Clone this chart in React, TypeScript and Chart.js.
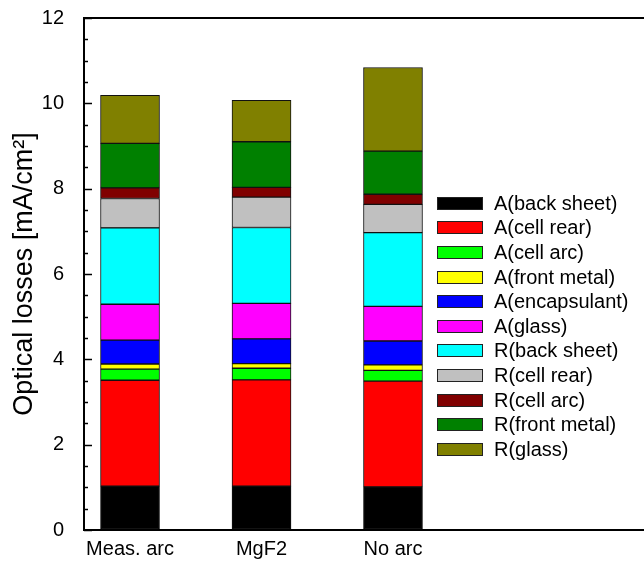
import React, { useEffect, useRef } from "react";
import { Chart, registerables } from "chart.js";

Chart.register(...registerables);

const categories = ["Meas. arc", "MgF2", "No arc"];
const categoryPositions = [1, 2, 3];

const seriesNames = [
  "A(back sheet)",
  "A(cell rear)",
  "A(cell arc)",
  "A(front metal)",
  "A(encapsulant)",
  "A(glass)",
  "R(back sheet)",
  "R(cell rear)",
  "R(cell arc)",
  "R(front metal)",
  "R(glass)",
];

const seriesColors = [
  "#000000",
  "#ff0000",
  "#00ff00",
  "#ffff00",
  "#0000ff",
  "#ff00ff",
  "#00ffff",
  "#c0c0c0",
  "#800000",
  "#008000",
  "#808000",
];

// values per series, for [Meas. arc, MgF2, No arc]
const aBackSheet = [1.03, 1.03, 1.01];
const aCellRear = [2.48, 2.49, 2.48];
const aCellArc = [0.26, 0.27, 0.25];
const aFrontMetal = [0.12, 0.11, 0.13];
const aEncapsulant = [0.56, 0.58, 0.56];
const aGlass = [0.84, 0.83, 0.81];
const rBackSheet = [1.79, 1.78, 1.73];
const rCellRear = [0.69, 0.71, 0.66];
const rCellArc = [0.25, 0.23, 0.24];
const rFrontMetal = [1.04, 1.07, 1.01];
const rGlass = [1.13, 0.97, 1.96];

const seriesValues = [
  aBackSheet,
  aCellRear,
  aCellArc,
  aFrontMetal,
  aEncapsulant,
  aGlass,
  rBackSheet,
  rCellRear,
  rCellArc,
  rFrontMetal,
  rGlass,
];

const yMin = 0;
const yMax = 12;
const yMajorStep = 2;
const yMinorStep = 0.5;

const FONT = "'Liberation Sans', Arial, sans-serif";

const innerTicks = {
  id: "innerTicks",
  afterDraw(chart: any) {
    const ctx = chart.ctx;
    const y = chart.scales.y;
    const area = chart.chartArea;
    ctx.save();
    ctx.strokeStyle = "#000";
    ctx.lineWidth = 1.5;
    for (let v = yMin; v <= yMax + 1e-9; v += yMinorStep) {
      const py = Math.round(y.getPixelForValue(v)) + 0.5;
      const major = Math.abs(v / yMajorStep - Math.round(v / yMajorStep)) < 1e-9;
      const len = major ? 8 : 4;
      ctx.beginPath();
      ctx.moveTo(area.left, py);
      ctx.lineTo(area.left + len, py);
      ctx.stroke();
    }
    // frame: left, bottom, top
    ctx.lineWidth = 2;
    ctx.beginPath();
    ctx.moveTo(area.right, area.top);
    ctx.lineTo(area.left, area.top);
    ctx.lineTo(area.left, area.bottom);
    ctx.lineTo(area.right, area.bottom);
    ctx.stroke();
    ctx.restore();
  },
};

export default function App() {
  const canvasRef = useRef<HTMLCanvasElement | null>(null);

  useEffect(() => {
    if (!canvasRef.current) return;
    const chart = new Chart(canvasRef.current, {
      type: "bar",
      data: {
        datasets: seriesNames.map((name, i) => ({
          label: name,
          data: seriesValues[i].map((v, j) => ({ x: categoryPositions[j], y: v })),
          backgroundColor: seriesColors[i],
          borderColor: "#111",
          borderWidth: 1,
          borderSkipped: false,
          barThickness: 59,
        })),
      },
      options: {
        animation: false,
        responsive: false,
        maintainAspectRatio: false,
        layout: { padding: { top: 18, left: 0, right: 0, bottom: 0 } },
        plugins: {
          legend: { display: false },
          tooltip: { enabled: false },
        },
        scales: {
          x: {
            type: "linear",
            stacked: true,
            offset: false,
            min: 0.65,
            max: 4.909,
            grid: { display: false, drawTicks: false },
            border: { display: false },
            afterBuildTicks: (scale: any) => {
              scale.ticks = categoryPositions.map((v) => ({ value: v }));
            },
            afterFit: (scale: any) => {
              scale.height = 33;
            },
            ticks: {
              autoSkip: false,
              maxRotation: 0,
              padding: 7,
              color: "#000",
              font: { family: FONT, size: 20 },
              callback: (value: any) => {
                const idx = categoryPositions.indexOf(Number(value));
                return idx >= 0 ? categories[idx] : "";
              },
            },
          },
          y: {
            type: "linear",
            stacked: true,
            min: yMin,
            max: yMax,
            grid: {
              display: true,
              drawOnChartArea: false,
              drawTicks: true,
              tickLength: 20,
              color: "rgba(0,0,0,0)",
            },
            border: { display: false },
            afterFit: (scale: any) => {
              scale.width = 84;
            },
            ticks: {
              stepSize: yMajorStep,
              padding: 0,
              color: "#000",
              font: { family: FONT, size: 20 },
            },
            title: {
              display: true,
              text: "Optical losses [mA/cm²]",
              color: "#000",
              font: { family: FONT, size: 27 },
              padding: { top: 8, bottom: 0 },
            },
          },
        },
      },
      plugins: [innerTicks],
    });
    return () => chart.destroy();
  }, []);

  const legendTop = 203.3;
  const legendStep = 24.6;

  return (
    <div style={{ position: "absolute", left: 0, top: 0, width: 644, height: 563, background: "#fff" }}>
      <canvas ref={canvasRef} width={644} height={563} style={{ width: 644, height: 563, display: "block" }} />
      {seriesNames.map((name, i) => (
        <div
          key={name}
          style={{
            position: "absolute",
            left: 437,
            top: legendTop + i * legendStep - 12,
            height: 24,
            display: "flex",
            alignItems: "center",
            fontFamily: FONT,
            fontSize: 20,
            color: "#000",
            whiteSpace: "nowrap",
          }}
        >
          <span
            style={{
              display: "inline-block",
              width: 44,
              height: 11,
              background: seriesColors[i],
              border: "1px solid #222",
              marginRight: 11,
            }}
          />
          <span>{name}</span>
        </div>
      ))}
    </div>
  );
}
